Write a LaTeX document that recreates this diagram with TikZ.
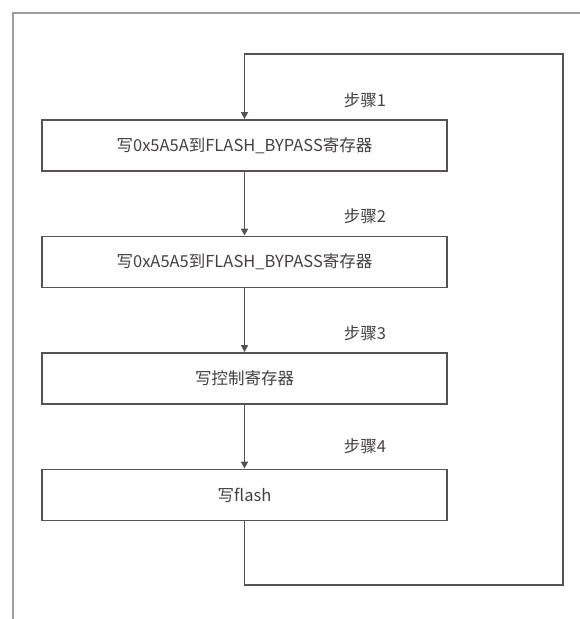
\documentclass[tikz,border=0pt]{standalone}
\usepackage{fontspec}
\setmainfont{Noto Sans CJK SC}
\usetikzlibrary{arrows.meta}
\definecolor{linec}{HTML}{565252}
\definecolor{framec}{HTML}{A09C9C}
\definecolor{textc}{HTML}{444040}
\tikzset{
  stepbox/.style={draw=linec, line width=1.8pt, minimum width=405pt, minimum height=51pt, inner sep=0pt, text=textc, font=\fontsize{16.5pt}{18pt}\selectfont},
  steplbl/.style={text=textc, font=\fontsize{16.5pt}{18pt}\selectfont, inner sep=0pt},
  conn/.style={draw=linec, line width=1.6pt},
  arr/.style={conn, -{Triangle[length=7pt,width=7pt]}}
}
\begin{document}
\begin{tikzpicture}[x=1pt,y=1pt]
\useasboundingbox (0,0) rectangle (580,-619);
\draw[framec, line width=2.2pt] (13,-619) -- (13,-13) -- (580,-13);
\node[stepbox] (b1) at (244.5,-145.5) {写0x5A5A到FLASH\_BYPASS寄存器};
\node[stepbox] (b2) at (244.5,-262) {写0xA5A5到FLASH\_BYPASS寄存器};
\node[stepbox] (b3) at (244.5,-378.5) {写控制寄存器};
\node[stepbox] (b4) at (244.5,-495) {写flash};
\node[steplbl] (s1) at (365,-100) {步骤1};
\node[steplbl] (s2) at (365,-216) {步骤2};
\node[steplbl] (s3) at (365,-333) {步骤3};
\node[steplbl] (s4) at (365,-446) {步骤4};
\coordinate (c1) at (244.5,-585);
\coordinate (c2) at (563,-585);
\coordinate (c3) at (563,-54);
\coordinate (c4) at (244.5,-54);
\draw[arr] (b1.south) -- (b2.north);
\draw[arr] (b2.south) -- (b3.north);
\draw[arr] (b3.south) -- (b4.north);
\draw[arr] (b4.south) -- (c1) -- (c2) -- (c3) -- (c4) -- (b1.north);
\end{tikzpicture}
\end{document}
